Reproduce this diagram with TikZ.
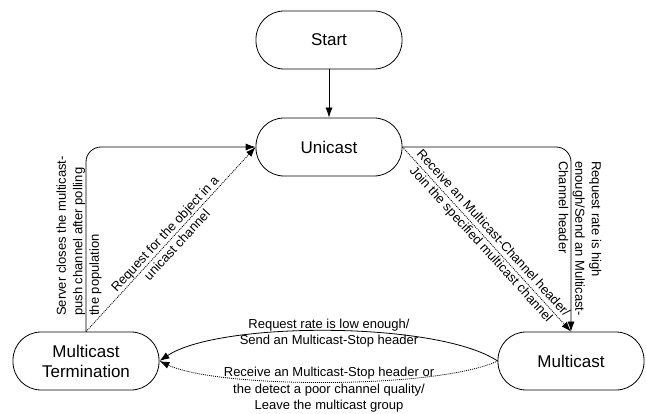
\documentclass[tikz,border=0pt]{standalone}
\usepackage{fontspec}
\setmainfont{Liberation Sans}
\usetikzlibrary{arrows.meta}
\begin{document}
\begin{tikzpicture}[x=1pt,y=-1pt,
  state/.style={draw, line width=0.8pt, rounded corners=28pt, minimum width=146pt, minimum height=58pt, align=center, font=\fontsize{17}{20}\selectfont, inner sep=0pt},
  lbl/.style={font=\fontsize{13}{16.5}\selectfont, align=center, inner sep=1pt},
  conn/.style={line width=0.8pt, -{Latex[length=10pt,width=7pt]}},
  dotconn/.style={conn, dash pattern=on 1pt off 1pt}]
\useasboundingbox (0,0) rectangle (646,414);
\node[state] (st) at (329,40) {Start};
\node[state] (uc) at (329,147) {Unicast};
\node[state] (mt) at (86,361) {Multicast\\Termination};
\node[state] (mc) at (571,361) {Multicast};
\draw[conn] (st) -- (uc);
\draw[conn, rounded corners=15pt] (mt.north) |- (uc.west);
\draw[dotconn] (mt.north) -- node[lbl, sloped, midway] {Request for the object in a\\unicast channel} (uc.west);
\draw[conn, rounded corners=15pt] (uc.east) -| (mc.north);
\draw[dotconn] (uc.east) -- node[lbl, sloped, midway] {Receive an Multicast-Channel header/\\Join the specified multicast channel} (mc.north);
\draw[conn] (mc.west) .. controls +(-60,-40) and +(60,-40) .. (mt.east);
\draw[dotconn] (mc.west) .. controls +(-60,28) and +(60,28) .. (mt.east);
\node[lbl] (l1) at (329,333) {Request rate is low enough/\\Send an Multicast-Stop header};
\node[lbl] (l2) at (329,390) {Receive an Multicast-Stop header or\\the detect a poor channel quality/\\Leave the multicast group};
\node[lbl, rotate=90, anchor=west, align=left] (l3) at (79,317) {Server closes the multicast-\\push channel after polling\\the population};
\node[lbl, rotate=-90, anchor=west, align=left] (l4) at (580,160) {Request rate is high\\enough/Send an Multicast-\\Channel header};
\end{tikzpicture}
\end{document}
